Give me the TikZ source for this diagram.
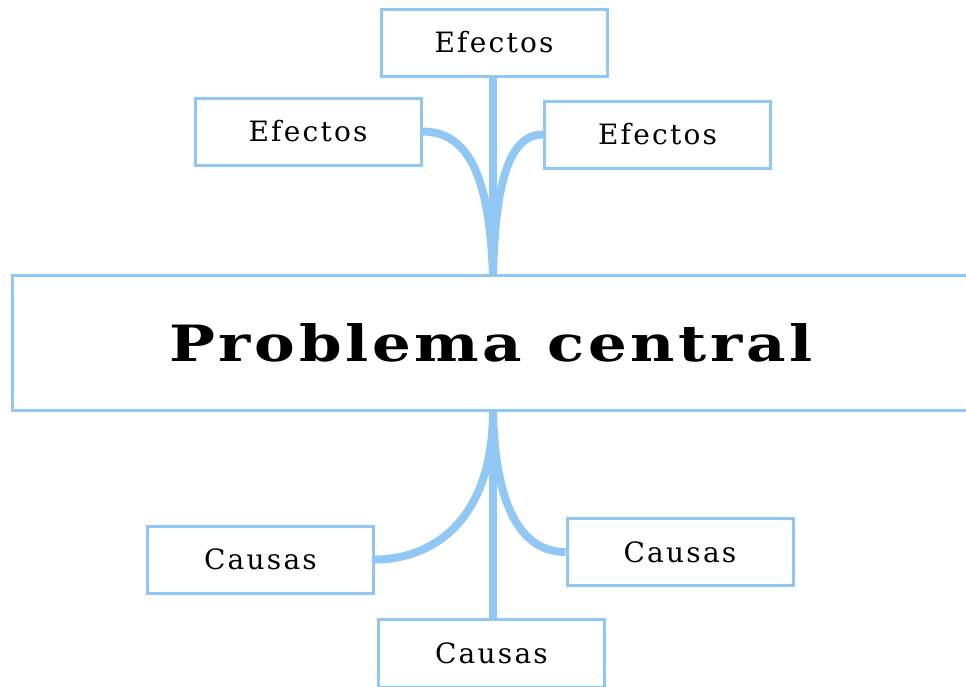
\documentclass[tikz,border=0pt]{standalone}
\usepackage{fontspec}
\setmainfont{DejaVu Serif}
\newfontfamily\smallfont[LetterSpace=8]{DejaVu Serif}
\newfontfamily\bigfont[LetterSpace=6]{DejaVu Serif}
\definecolor{lblue}{RGB}{144,199,244}
\begin{document}
\begin{tikzpicture}[x=1pt,y=-1pt,
  box/.style={draw=lblue,line width=3pt,fill=white,inner sep=0pt,
    minimum width=226pt,minimum height=67pt,
    font=\fontsize{28}{32}\smallfont},
  bigbox/.style={draw=lblue,line width=3pt,fill=white,inner sep=0pt,
    minimum width=958pt,minimum height=135pt,
    font=\fontsize{50}{58}\bigfont\bfseries},
  conn/.style={draw=lblue,line width=8pt}]
\useasboundingbox (0,0) rectangle (966,686);
\clip (0,0) rectangle (966,686);
\coordinate (ctop) at (493,276);
\coordinate (cbot) at (493,411);
\node[box] (e1) at (494,42.5) {Efectos};
\node[box] (e2) at (308,131.5) {Efectos};
\node[box] (e3) at (657.5,134.5) {Efectos};
\node[box] (k1) at (260.5,559.5) {Causas};
\node[box] (k2) at (680,552) {Causas};
\node[box,minimum height=68pt] (k3) at (491.5,653) {Causas};
\node[bigbox] (c) at (491,343) {\scalebox{1.22}[1]{Problema central}};
\draw[conn] (e1.south -| ctop) -- (ctop);
\draw[conn] (e2.east) .. controls +(50,0) and +(-3,-90) .. (ctop);
\draw[conn] (e3.west) .. controls +(-35,0) and +(2,-90) .. (ctop);
\draw[conn] (cbot) -- (cbot |- k3.north);
\draw[conn] (cbot) .. controls +(0,110) and +(57,0) .. (k1.east);
\draw[conn] (cbot) .. controls +(2,100) and +(-42,0) .. (k2.west);
\end{tikzpicture}
\end{document}
